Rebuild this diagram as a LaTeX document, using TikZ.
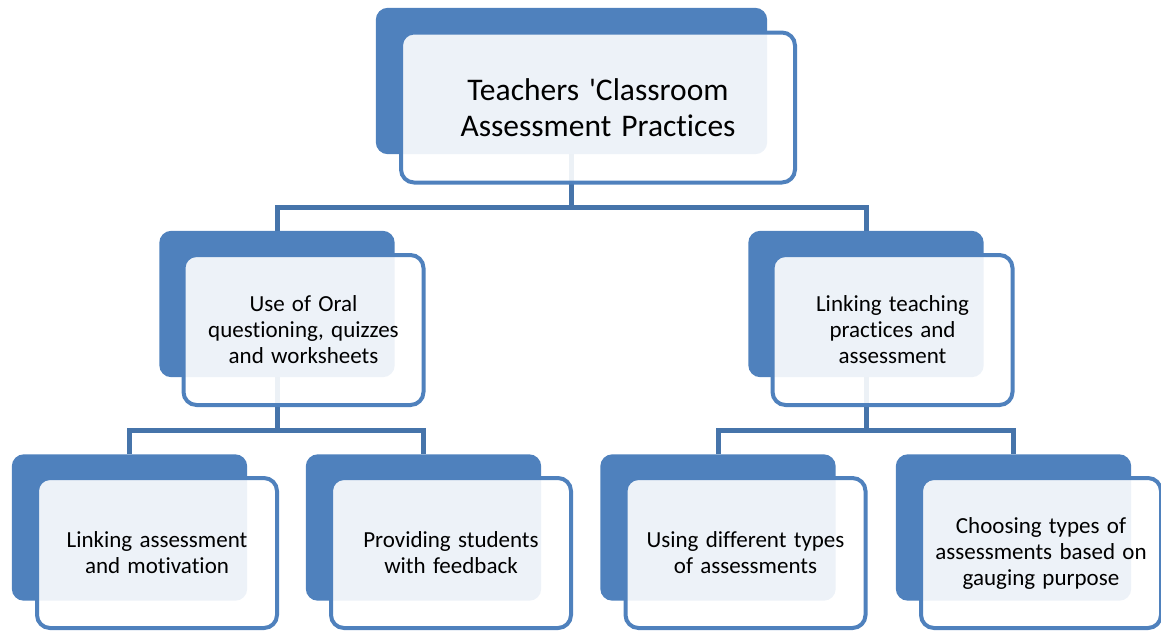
\documentclass[tikz,border=0pt]{standalone}
\usepackage{fontspec}
\setmainfont{Carlito}[Ligatures={NoCommon},WordSpace=1.4]
\usetikzlibrary{positioning}

\definecolor{boxblue}{HTML}{4F81BD}
\definecolor{linkblue}{HTML}{4674AA}

\tikzset{
  back/.style={rectangle,rounded corners=12pt,
    minimum width=235pt,minimum height=146pt},
  front/.style={rectangle,rounded corners=13pt,draw=boxblue,line width=4pt,
    fill=white,fill opacity=0.9,text opacity=1,align=center,
    minimum width=240pt,minimum height=150pt,
    font=\fontsize{23}{26}\selectfont},
  link/.style={draw=linkblue,line width=5pt}
}

\begin{document}
\begin{tikzpicture}[x=1pt,y=-1pt]
  \useasboundingbox (0,0) rectangle (1161,630);
  % back boxes (filled after the connectors)
  \node[back,minimum width=391pt] (b0) at (571.5,81) {};
  \node[back] (b1) at (277,304) {};
  \node[back] (b2) at (866,304) {};
  \node[back] (b11) at (129.5,527.5) {};
  \node[back] (b12) at (423.5,527.5) {};
  \node[back] (b21) at (718,527.5) {};
  \node[back] (b22) at (1013.5,527.5) {};
  % connectors
  \draw[link] (b0.south) -- ++(0,53) coordinate (j0) -| (b1.north);
  \draw[link] (j0) -| (b2.north);
  \draw[link] (b1.south) -- ++(0,53) coordinate (j1) -| (b11.north);
  \draw[link] (j1) -| (b12.north);
  \draw[link] (b2.south) -- ++(0,53) coordinate (j2) -| (b21.north);
  \draw[link] (j2) -| (b22.north);
  \foreach \n in {b0,b1,b2,b11,b12,b21,b22}
    \fill[boxblue,rounded corners=12pt] (\n.north west) rectangle (\n.south east);
  % front boxes with the texts
  \node[front,minimum width=394pt,font=\fontsize{31.5}{36}\selectfont] (f0)
    at ([shift={(26.5,26.5)}]b0.center)
    {Teachers \textquotesingle Classroom\\Assessment Practices};
  \node[front] (f1) at ([shift={(26.5,26)}]b1.center)
    {Use of Oral\\questioning, quizzes\\and worksheets};
  \node[front] (f2) at ([shift={(26.5,26)}]b2.center)
    {Linking teaching\\practices and\\assessment};
  \node[front] (f11) at ([shift={(27.5,25.5)}]b11.center)
    {Linking assessment\\and motivation};
  \node[front] (f12) at ([shift={(27.5,25.5)}]b12.center)
    {Providing students\\with feedback};
  \node[front] (f21) at ([shift={(27.5,25.5)}]b21.center)
    {Using different types\\of assessments};
  \node[front] (f22) at ([shift={(27.5,25.5)}]b22.center)
    {Choosing types of\\assessments based on\\gauging purpose};
\end{tikzpicture}
\end{document}
